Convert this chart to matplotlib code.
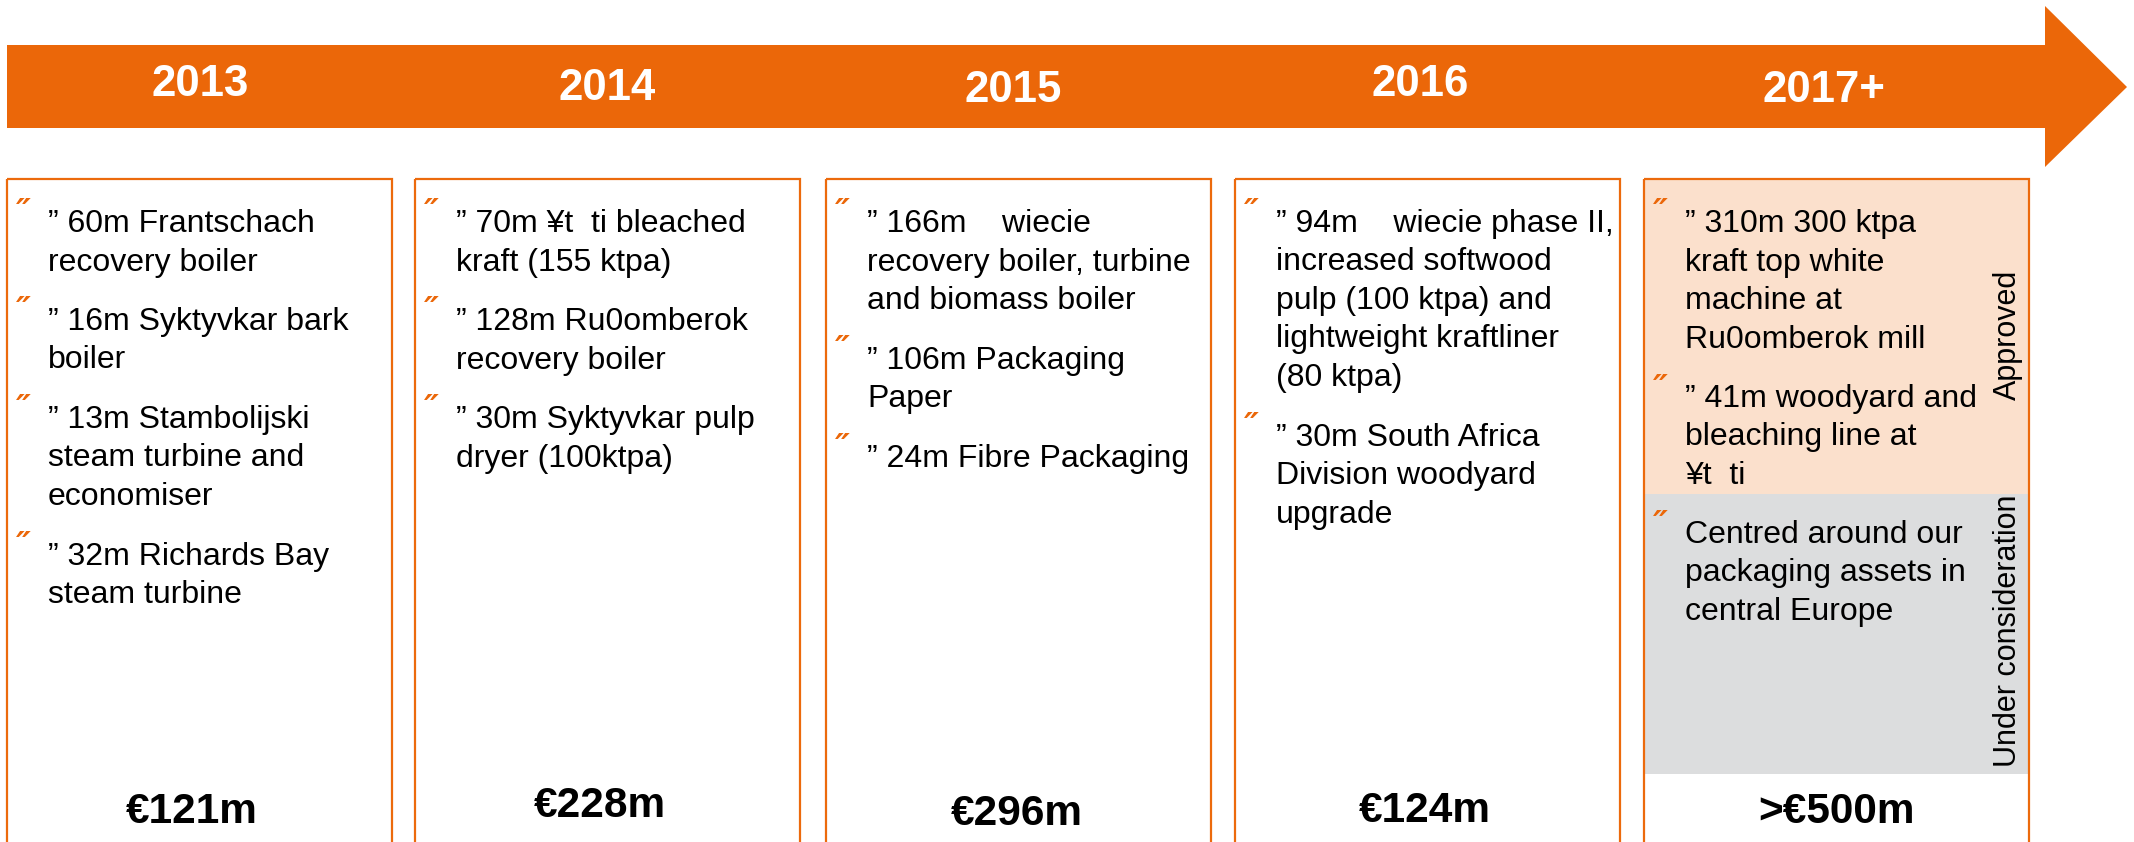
import matplotlib
matplotlib.use("Agg")
import matplotlib.pyplot as plt
from matplotlib.patches import Polygon, Rectangle

plt.rcParams['font.family'] = ['Liberation Sans', 'DejaVu Sans']

# data
years = ['2013', '2014', '2015', '2016', '2017+']
totals = ['€121m', '€228m', '€296m', '€124m', '>€500m']
projects = [
    ["” 60m Frantschach\nrecovery boiler",
     "” 16m Syktyvkar bark\nboiler",
     "” 13m Stambolijski\nsteam turbine and\neconomiser",
     "” 32m Richards Bay\nsteam turbine"],
    ["” 70m ¥t  ti bleached\nkraft (155 ktpa)",
     "” 128m Ru0omberok\nrecovery boiler",
     "” 30m Syktyvkar pulp\ndryer (100ktpa)"],
    ["” 166m    wiecie\nrecovery boiler, turbine\nand biomass boiler",
     "” 106m Packaging\nPaper",
     "” 24m Fibre Packaging"],
    ["” 94m    wiecie phase II,\nincreased softwood\npulp (100 ktpa) and\nlightweight kraftliner\n(80 ktpa)",
     "” 30m South Africa\nDivision woodyard\nupgrade"],
    ["” 310m 300 ktpa\nkraft top white\nmachine at\nRu0omberok mill",
     "” 41m woodyard and\nbleaching line at\n¥t  ti"],
]
considered = ["Centred around our\npackaging assets in\ncentral Europe"]
status_labels = ['Approved', 'Under consideration']

# layout (pixels)
box_left = [7, 415, 826, 1235, 1644]
box_w = 385
box_top = 179
year_x = [200, 607, 1013, 1420, 1824]
year_y = [84, 88, 90, 84, 90]
total_x = [192, 600, 1017, 1425, 1836]
total_y = [812, 806, 814, 811, 812]
line_h = 38.5
item_gap = 21

orange = '#EB6709'
border = '#EC6A0C'
peach = '#FBE0CC'
grey = '#DCDDDE'

fig = plt.figure(figsize=(21.34, 8.42), dpi=100)
ax = fig.add_axes([0, 0, 1, 1])
ax.set_xlim(0, 2134)
ax.set_ylim(842, 0)
ax.axis('off')

# timeline arrow
arrow = [(7, 45), (2045, 45), (2045, 6), (2127, 87), (2045, 167), (2045, 128), (7, 128)]
ax.add_patch(Polygon(arrow, closed=True, facecolor=orange, edgecolor='none'))
for i, y in enumerate(years):
    ax.text(year_x[i], year_y[i], y, color='white', fontsize=31.5, fontweight='bold',
            ha='center', va='center')

# 2017+ background bands
ax.add_patch(Rectangle((box_left[4], box_top), box_w, 494 - box_top, facecolor=peach, edgecolor='none'))
ax.add_patch(Rectangle((box_left[4], 494), box_w, 774 - 494, facecolor=grey, edgecolor='none'))


def draw_items(x0, y0, items):
    y = y0
    for item in items:
        ax.text(x0 + 9, y - 18, '″', color=orange, fontsize=24, fontweight='bold',
                fontstyle='italic', family='DejaVu Sans', ha='left', va='center')
        for line in item.split('\n'):
            ax.text(x0 + 41, y, line, fontsize=23, color='black', ha='left', va='baseline')
            y += line_h
        y += item_gap
    return y


for i in range(5):
    ax.add_patch(Rectangle((box_left[i], box_top), box_w, 700, facecolor='none',
                           edgecolor=border, linewidth=1.6))
    draw_items(box_left[i], 232, projects[i])
    ax.text(total_x[i], total_y[i], totals[i], fontsize=30.5, fontweight='bold',
            ha='center', va='center')

draw_items(box_left[4], 543, considered)

ax.text(2008, 335, status_labels[0], rotation=90, fontsize=22, ha='center', va='center')
ax.text(2008, 631, status_labels[1], rotation=90, fontsize=22, ha='center', va='center')

fig.savefig('out.png', dpi=100)
